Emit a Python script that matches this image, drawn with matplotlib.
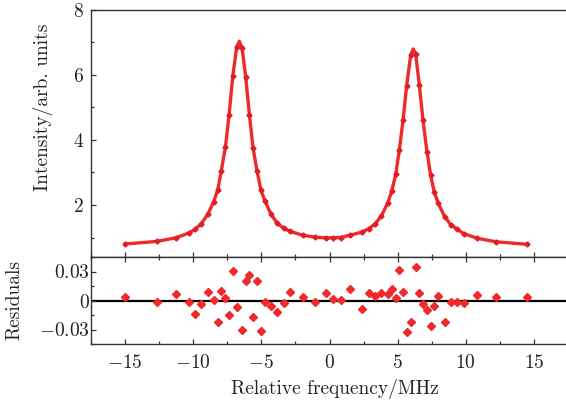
import numpy as np
import matplotlib.pyplot as plt
from matplotlib.ticker import MultipleLocator

plt.rcParams['font.family'] = 'serif'
plt.rcParams['font.serif'] = ['cmr10']
plt.rcParams['mathtext.fontset'] = 'cm'
plt.rcParams['axes.unicode_minus'] = False
plt.rcParams['axes.formatter.use_mathtext'] = True

# measured points (MHz)
freq = [-15.0, -12.68, -11.28, -10.31, -9.87, -9.40, -8.94, -8.50, -8.20, -7.94,
        -7.64, -7.37, -7.10, -6.81, -6.42, -6.15, -5.88, -5.61, -5.32, -5.03,
        -4.73, -4.29, -3.83, -3.36, -2.90, -1.97, -1.06, -0.28, 0.26, 0.82,
        1.50, 2.41, 2.87, 3.36, 3.80, 4.27, 4.56, 4.86, 5.12, 5.39,
        5.66, 5.96, 6.32, 6.59, 6.86, 7.15, 7.42, 7.69, 7.98, 8.45,
        8.91, 9.38, 9.85, 10.80, 12.19, 14.51]
intensity = [0.80, 0.88, 0.99, 1.14, 1.25, 1.43, 1.71, 2.10, 2.47, 3.05,
             3.78, 4.77, 5.96, 6.86, 6.84, 5.94, 4.78, 3.75, 3.05, 2.45,
             2.12, 1.71, 1.44, 1.28, 1.19, 1.07, 1.01, 0.99, 0.99, 1.00,
             1.07, 1.17, 1.27, 1.42, 1.66, 2.06, 2.42, 2.95, 3.68, 4.60,
             5.67, 6.63, 6.64, 5.69, 4.60, 3.64, 2.91, 2.39, 2.05, 1.64,
             1.39, 1.25, 1.12, 0.98, 0.87, 0.79]
residuals = [0.0035, -0.002, 0.007, -0.0013, -0.0138, -0.0037, 0.009, 0.001, -0.022, 0.010,
             0.0025, -0.015, 0.031, -0.0065, -0.030, 0.020, 0.026, -0.017, 0.0197, -0.0317,
             -0.0013, -0.006, -0.0124, -0.003, 0.0083, 0.0038, -0.0013, 0.0073, 0.0018, 0.0004,
             0.0118, -0.009, 0.0076, 0.0049, 0.0076, 0.0069, 0.0114, 0.0025, 0.0318, 0.009,
             -0.0331, -0.0224, 0.0349, 0.0076, -0.0041, -0.0096, -0.0262, -0.0055, 0.0045, -0.022,
             -0.0013, -0.0017, -0.0027, 0.0059, 0.0035, 0.0035]

# fitted curve apexes
peak_freq = [-6.62, 6.14]
peak_intensity = [7.04, 6.80]

xticks = [-15, -10, -5, 0, 5, 10, 15]
xticklabels = [r'$-15$', r'$-10$', r'$-5$', r'$0$', r'$5$', r'$10$', r'$15$']
yticks = [2, 4, 6, 8]
yticklabels = [r'$2$', r'$4$', r'$6$', r'$8$']
rticks = [-0.03, 0, 0.03]
rticklabels = [r'$-0.03$', r'$0$', r'$0.03$']

red = '#ee2a2c'
spine_col = '#333333'
fs = 14

fit_x = np.array(freq + peak_freq)
fit_y = np.array(intensity + peak_intensity)
order = np.argsort(fit_x)

fig = plt.figure(figsize=(5.66, 4.0), dpi=100)
ax1 = fig.add_axes([0.1608, 0.3575, 0.8428, 0.6175])
ax2 = fig.add_axes([0.1608, 0.14, 0.8428, 0.2175])

ax1.plot(fit_x[order], fit_y[order], color=red, lw=2.4, zorder=2)
ax1.plot(freq, intensity, 'D', color='#e01e24', ms=2.6, zorder=3)

ax2.axhline(0, color='black', lw=1.6, zorder=1)
ax2.plot(freq, residuals, 'D', color=red, ms=4.4, lw=0, zorder=3)

for ax in (ax1, ax2):
    ax.set_xlim(-17.5, 17.5)
    ax.set_xticks(xticks)
    ax.xaxis.set_minor_locator(MultipleLocator(2.5))
    for s in ax.spines.values():
        s.set_color(spine_col)
        s.set_linewidth(1.0)
    ax.tick_params(which='both', direction='in', colors=spine_col, width=0.9)
    ax.tick_params(which='major', length=3.5, labelsize=fs, labelcolor='#222222')
    ax.tick_params(which='minor', length=2.0)

ax1.set_ylim(0.4, 8)
ax1.set_yticks(yticks)
ax1.set_yticklabels(yticklabels)
ax1.yaxis.set_minor_locator(MultipleLocator(1))
ax1.tick_params(axis='x', which='both', labelbottom=False)
ax1.tick_params(axis='y', which='major', pad=5)
ax1.set_ylabel('Intensity/arb. units', fontsize=fs, color='#222222')
ax1.yaxis.set_label_coords(-0.08, 0.607)

ax2.set_ylim(-0.045, 0.045)
ax2.set_yticks(rticks)
ax2.set_yticklabels(rticklabels)
ax2.yaxis.set_minor_locator(MultipleLocator(0.015))
ax2.set_xticklabels(xticklabels)
ax2.tick_params(axis='x', which='both', top=True, pad=7)
ax2.tick_params(axis='y', which='major', pad=1)
ax2.set_ylabel('Residuals', fontsize=fs, color='#222222')
ax2.yaxis.set_label_coords(-0.141, 0.5)
ax2.set_xlabel('Relative frequency/MHz', fontsize=fs, color='#222222')
ax2.xaxis.set_label_coords(0.511, -0.40)

fig.savefig('out.png', dpi=100)
